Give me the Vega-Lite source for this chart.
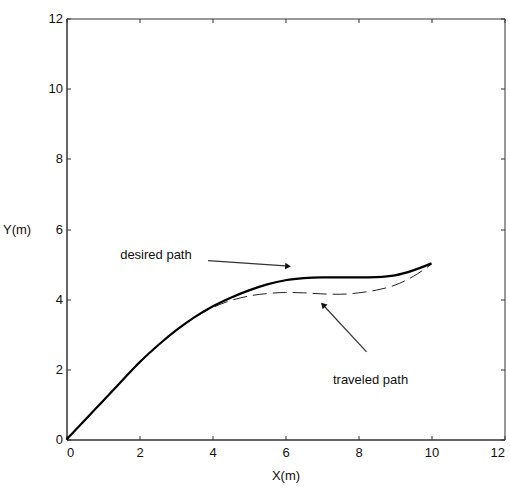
{
  "$schema": "https://vega.github.io/schema/vega-lite/v6.json",
  "width": 438,
  "height": 421,
  "autosize": "none",
  "padding": {"left": 66.5, "top": 18.5, "right": 5.5, "bottom": 49.5},
  "background": "white",
  "config": {
    "view": {"stroke": "#333", "strokeWidth": 1},
    "font": "Liberation Sans Narrow, Liberation Sans, sans-serif",
    "axis": {
      "grid": false,
      "domainColor": "#333",
      "tickColor": "#333",
      "tickSize": -4,
      "labelFontSize": 13,
      "labelColor": "#111",
      "labelFont": "Liberation Sans Narrow, Liberation Sans, sans-serif",
      "titleFont": "Liberation Sans Narrow, Liberation Sans, sans-serif",
      "titleFontSize": 13,
      "titleFontWeight": "normal",
      "titleColor": "#111"
    }
  },
  "datasets": {
    "desired": [
      {"x": 0, "y": 0}, {"x": 0.5, "y": 0.55}, {"x": 1, "y": 1.1}, {"x": 1.5, "y": 1.65},
      {"x": 2, "y": 2.2}, {"x": 2.5, "y": 2.68}, {"x": 3, "y": 3.11}, {"x": 3.5, "y": 3.48},
      {"x": 4, "y": 3.79}, {"x": 4.5, "y": 4.04}, {"x": 5, "y": 4.25}, {"x": 5.5, "y": 4.42},
      {"x": 6, "y": 4.54}, {"x": 6.5, "y": 4.6}, {"x": 7, "y": 4.62}, {"x": 7.5, "y": 4.62},
      {"x": 8, "y": 4.62}, {"x": 8.5, "y": 4.63}, {"x": 9, "y": 4.68}, {"x": 9.5, "y": 4.82},
      {"x": 10, "y": 5.02}
    ],
    "traveled": [
      {"x": 0, "y": 0}, {"x": 1, "y": 1.08}, {"x": 2, "y": 2.18}, {"x": 3, "y": 3.1},
      {"x": 3.5, "y": 3.47}, {"x": 4, "y": 3.76}, {"x": 4.5, "y": 3.96}, {"x": 5, "y": 4.09},
      {"x": 5.5, "y": 4.16}, {"x": 6, "y": 4.19}, {"x": 6.5, "y": 4.18}, {"x": 7, "y": 4.15},
      {"x": 7.5, "y": 4.14}, {"x": 8, "y": 4.18}, {"x": 8.5, "y": 4.26}, {"x": 9, "y": 4.4},
      {"x": 9.5, "y": 4.65}, {"x": 9.8, "y": 4.85}, {"x": 10, "y": 5.0}
    ],
    "labels": [
      {"x": 1.47, "y": 5.26, "text": "desired path"},
      {"x": 7.3, "y": 1.7, "text": "traveled path"}
    ],
    "arrows": [
      {"x": 3.88, "y": 5.1, "x2": 6.1, "y2": 4.94},
      {"x": 8.22, "y": 2.5, "x2": 7.0, "y2": 3.87}
    ],
    "heads": [
      {"x": 6.07, "y": 4.94, "angle": 94},
      {"x": 7.03, "y": 3.84, "angle": 317}
    ]
  },
  "resolve": {"axis": {"x": "independent", "y": "independent"}},
  "layer": [
    {
      "data": {"name": "traveled"},
      "mark": {"type": "line", "color": "#222", "strokeWidth": 1, "strokeDash": [14, 6], "interpolate": "monotone"},
      "encoding": {
        "x": {"field": "x", "type": "quantitative", "scale": {"domain": [0, 12], "nice": false, "zero": false},
              "axis": {"orient": "bottom", "values": [0, 2, 4, 6, 8, 10, 12], "title": "X(m)", "labelPadding": 11, "titleY": 36, "titleBaseline": "middle"}},
        "y": {"field": "y", "type": "quantitative", "scale": {"domain": [0, 12], "nice": false, "zero": false},
              "axis": {"orient": "left", "values": [0, 2, 4, 6, 8, 10, 12], "title": "Y(m)", "labelPadding": 8, "titleAngle": 0, "titleX": -64, "titleY": 211, "titleAlign": "left", "titleBaseline": "middle"}},
        "order": {"field": "x", "type": "quantitative"}
      }
    },
    {
      "data": {"name": "desired"},
      "mark": {"type": "line", "color": "#000", "strokeWidth": 2.2, "interpolate": "monotone"},
      "encoding": {
        "x": {"field": "x", "type": "quantitative",
              "axis": {"orient": "top", "values": [0, 2, 4, 6, 8, 10, 12], "labels": false, "title": null, "domain": false}},
        "y": {"field": "y", "type": "quantitative",
              "axis": {"orient": "right", "values": [0, 2, 4, 6, 8, 10, 12], "labels": false, "title": null, "domain": false}},
        "order": {"field": "x", "type": "quantitative"}
      }
    },
    {
      "data": {"name": "arrows"},
      "mark": {"type": "rule", "color": "#333", "strokeWidth": 1.2},
      "encoding": {
        "x": {"field": "x", "type": "quantitative", "axis": null},
        "y": {"field": "y", "type": "quantitative", "axis": null},
        "x2": {"field": "x2"},
        "y2": {"field": "y2"}
      }
    },
    {
      "data": {"name": "heads"},
      "mark": {"type": "point", "shape": "triangle-up", "filled": true, "color": "#111", "size": 45, "opacity": 1},
      "encoding": {
        "x": {"field": "x", "type": "quantitative", "axis": null},
        "y": {"field": "y", "type": "quantitative", "axis": null},
        "angle": {"field": "angle", "type": "quantitative", "scale": null}
      }
    },
    {
      "data": {"name": "labels"},
      "mark": {"type": "text", "align": "left", "baseline": "middle", "fontSize": 13, "color": "#111", "font": "Liberation Sans Narrow, Liberation Sans, sans-serif"},
      "encoding": {
        "x": {"field": "x", "type": "quantitative", "axis": null},
        "y": {"field": "y", "type": "quantitative", "axis": null},
        "text": {"field": "text"}
      }
    }
  ]
}
